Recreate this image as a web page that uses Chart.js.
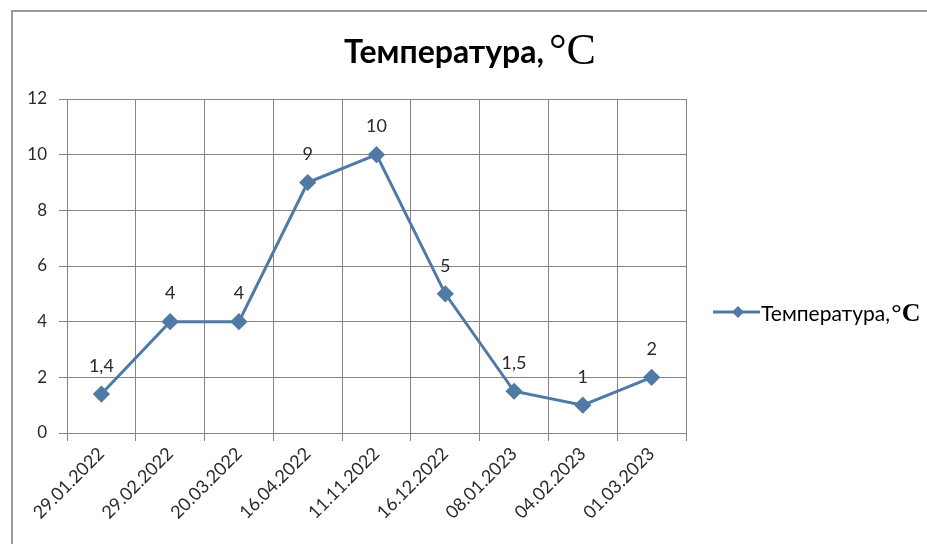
<!DOCTYPE html>
<html>
<head>
<meta charset="utf-8">
<script src="https://cdn.jsdelivr.net/npm/chart.js@4"></script>
<style>
html,body{margin:0;padding:0;background:#fff;}
#wrap{width:927px;height:544px;position:relative;}
</style>
</head>
<body>
<div id="wrap"><canvas id="c" width="927" height="544"></canvas></div>
<script>
const categories = ['29.01.2022','29.02.2022','20.03.2022','16.04.2022','11.11.2022','16.12.2022','08.01.2023','04.02.2023','01.03.2023'];
const temperatures = [1.4, 4, 4, 9, 10, 5, 1.5, 1, 2];
const titleMain = 'Температура,';
const titleUnit = '°C';
const seriesName = 'Температура, °C';

const LINE = '#4f7aa6';
const GRID = '#858585';
const TXT = '#2a2a2a';
const SANS = 'Lato, "Open Sans", sans-serif';
const SERIF = '"Liberation Serif", "DejaVu Serif", serif';

const decor = {
  id: 'decor',
  beforeDraw(chart) {
    const ctx = chart.ctx;
    ctx.save();
    ctx.fillStyle = '#fff';
    ctx.fillRect(0, 0, chart.width, chart.height);
    ctx.strokeStyle = '#9a9a9a';
    ctx.lineWidth = 2;
    ctx.strokeRect(12, 11, chart.width + 20, chart.height + 20);
    ctx.restore();
  },
  afterDatasetsDraw(chart) {
    const ctx = chart.ctx;
    const meta = chart.getDatasetMeta(0);
    ctx.save();
    ctx.fillStyle = TXT;
    ctx.font = '18px ' + SANS;
    ctx.textAlign = 'center';
    ctx.textBaseline = 'middle';
    meta.data.forEach((pt, i) => {
      const v = chart.data.datasets[0].data[i];
      ctx.fillText(String(v).replace('.', ','), pt.x, pt.y - 28);
    });
    ctx.restore();
  },
  afterDraw(chart) {
    const ctx = chart.ctx;
    ctx.save();
    // title
    const gap = 5;
    ctx.textBaseline = 'alphabetic';
    ctx.fillStyle = '#000';
    ctx.font = 'bold 32px ' + SANS;
    const w1 = ctx.measureText(titleMain).width;
    ctx.font = '44px ' + SERIF;
    const w2 = ctx.measureText(titleUnit).width;
    const cx = 470;
    let x = cx - (w1 + gap + w2) / 2;
    ctx.font = 'bold 32px ' + SANS;
    ctx.textAlign = 'left';
    ctx.fillText(titleMain, x, 63);
    ctx.font = '44px ' + SERIF;
    ctx.fillText(titleUnit, x + w1 + gap, 64);
    // legend
    const ly = 312;
    ctx.strokeStyle = LINE;
    ctx.lineWidth = 3;
    ctx.beginPath();
    ctx.moveTo(713, ly);
    ctx.lineTo(760, ly);
    ctx.stroke();
    ctx.fillStyle = LINE;
    ctx.beginPath();
    ctx.moveTo(738, ly - 6);
    ctx.lineTo(744, ly);
    ctx.lineTo(738, ly + 6);
    ctx.lineTo(732, ly);
    ctx.closePath();
    ctx.fill();
    ctx.fillStyle = '#000';
    ctx.textBaseline = 'middle';
    ctx.font = '21px ' + SANS;
    const parts = seriesName.split('°');
    const lw = ctx.measureText(parts[0]).width;
    ctx.fillText(parts[0], 761, ly + 2);
    ctx.font = 'bold 26px ' + SERIF;
    ctx.fillText('°' + parts[1], 761 + lw - 4, ly + 2);
    ctx.restore();
  }
};

new Chart(document.getElementById('c'), {
  type: 'line',
  data: {
    labels: categories,
    datasets: [{
      label: seriesName,
      data: temperatures,
      borderColor: LINE,
      backgroundColor: LINE,
      borderWidth: 3,
      pointStyle: 'rectRot',
      pointRadius: 6.5,
      pointHoverRadius: 6.5,
      tension: 0
    }]
  },
  options: {
    responsive: false,
    animation: false,
    events: [],
    layout: { padding: { left: 0, right: 241, top: 99, bottom: 0 } },
    plugins: {
      legend: { display: false },
      title: { display: false },
      tooltip: { enabled: false }
    },
    scales: {
      x: {
        offset: true,
        grid: { offset: true, color: GRID, lineWidth: 1, tickLength: 8, drawTicks: true },
        border: { color: GRID, width: 1 },
        ticks: {
          minRotation: 45, maxRotation: 45, autoSkip: false,
          color: TXT, font: { family: SANS, size: 18 }, padding: 2
        },
        afterFit(s) { s.height = 111; }
      },
      y: {
        min: 0, max: 12,
        grid: { color: GRID, lineWidth: 1, tickLength: 8 },
        border: { color: GRID, width: 1 },
        ticks: { stepSize: 2, color: TXT, font: { family: SANS, size: 17 }, padding: 12 },
        afterFit(s) { s.width = 67; }
      }
    }
  },
  plugins: [decor]
});
</script>
</body>
</html>
